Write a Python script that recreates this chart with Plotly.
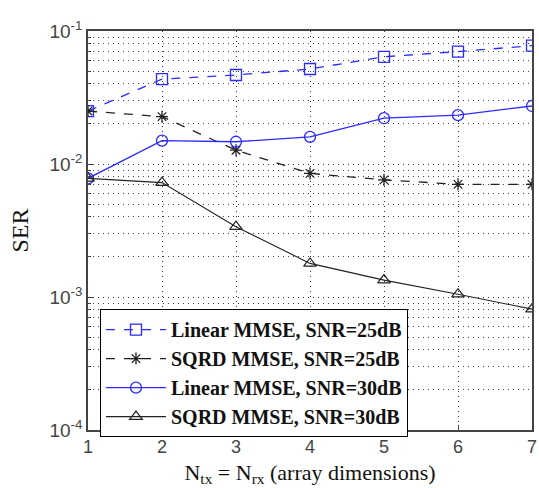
import plotly.graph_objects as go

x_dims = [1, 2, 3, 4, 5, 6, 7]
linear_25 = [0.025, 0.0435, 0.0467, 0.0518, 0.064, 0.070, 0.0776]
sqrd_25 = [0.025, 0.0227, 0.0127, 0.0085, 0.0076, 0.00703, 0.00703]
linear_30 = [0.0078, 0.0150, 0.0147, 0.0160, 0.0221, 0.0233, 0.0273]
sqrd_30 = [0.0078, 0.00724, 0.00338, 0.00179, 0.00134, 0.00105, 0.00081]

names = ["Linear MMSE, SNR=25dB", "SQRD MMSE, SNR=25dB",
         "Linear MMSE, SNR=30dB", "SQRD MMSE, SNR=30dB"]
ytick_vals = [1e-4, 1e-3, 1e-2, 1e-1]
ytick_text = ["10<sup>-4</sup>", "10<sup>-3</sup>", "10<sup>-2</sup>", "10<sup>-1</sup>"]
minor_vals = [m * 10 ** e for e in (-4, -3, -2) for m in range(2, 10)]

BLUE = "#2b2bff"
BLACK = "#222222"

fig = go.Figure()
fig.add_trace(go.Scatter(x=x_dims, y=linear_25, name=names[0], mode="lines+markers",
                         line=dict(color=BLUE, width=1.3, dash="dash"),
                         marker=dict(symbol="square-open", size=11, color=BLUE, line=dict(width=1.3))))
fig.add_trace(go.Scatter(x=x_dims, y=sqrd_25, name=names[1], mode="lines+markers",
                         line=dict(color=BLACK, width=1.3, dash="dash"),
                         marker=dict(symbol="asterisk-open", size=10, color=BLACK, line=dict(width=1.3, color=BLACK))))
fig.add_trace(go.Scatter(x=x_dims, y=linear_30, name=names[2], mode="lines+markers",
                         line=dict(color=BLUE, width=1.3),
                         marker=dict(symbol="circle-open", size=11, color=BLUE, line=dict(width=1.3))))
fig.add_trace(go.Scatter(x=x_dims, y=sqrd_30, name=names[3], mode="lines+markers",
                         line=dict(color=BLACK, width=1.1),
                         marker=dict(symbol="triangle-up-open", size=11, color=BLACK, line=dict(width=1.2))))

GRID = "1px,4px"
fig.update_layout(
    width=539, height=488,
    margin=dict(l=88, r=7, t=31, b=58, autoexpand=False),
    paper_bgcolor="white", plot_bgcolor="white",
    showlegend=True,
    legend=dict(x=0.027, y=0.303, xanchor="left", yanchor="top",
                bgcolor="white", bordercolor="black", borderwidth=1,
                font=dict(family="Liberation Serif", size=20, color="#111111", weight="bold"),
                itemwidth=60, tracegroupgap=0),
)
fig.update_xaxes(
    range=[1, 7], tickvals=x_dims, showline=True, mirror=True, linecolor="#444", linewidth=1.5,
    ticks="inside", ticklen=5, tickcolor="#444", automargin=False,
    showgrid=True, gridcolor="#333", griddash=GRID, gridwidth=1, zeroline=False,
    tickfont=dict(family="Liberation Sans", size=18, color="#444"),
    title=dict(text="N<sub>tx</sub> = N<sub>rx</sub> (array dimensions)", standoff=8,
               font=dict(family="Liberation Serif", size=22, color="#111")),
)
fig.update_yaxes(
    type="log", range=[-4, -1], tickvals=ytick_vals, ticktext=ytick_text,
    showline=True, mirror=True, linecolor="#444", linewidth=1.5,
    ticks="inside", ticklen=5, tickcolor="#444", automargin=False,
    showgrid=True, gridcolor="#333", griddash=GRID, gridwidth=1, zeroline=False,
    minor=dict(tickvals=minor_vals, ticks="inside", ticklen=3, tickcolor="#444",
               showgrid=True, gridcolor="#444", griddash=GRID, gridwidth=1),
    tickfont=dict(family="Liberation Sans", size=19, color="#444"),
    title=dict(text="SER", standoff=14, font=dict(family="Liberation Serif", size=24, color="#111")),
)

fig.write_html("out.html")
